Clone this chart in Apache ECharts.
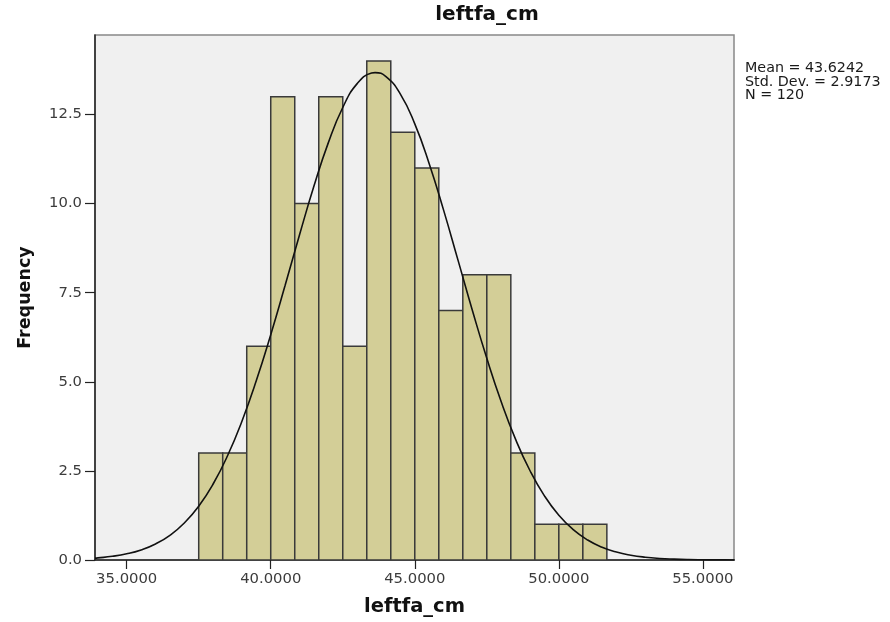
<!DOCTYPE html>
<html>
<head>
<meta charset="utf-8">
<script src="https://cdn.jsdelivr.net/npm/echarts@6/dist/echarts.min.js"></script>
<style>html,body{margin:0;padding:0;background:#fff;}#c{width:890px;height:622px;}</style>
</head>
<body>
<div id="c"></div>
<script>
const chartTitle = 'leftfa_cm';
const xName = 'leftfa_cm';
const yName = 'Frequency';
const statsLines = ['Mean = 43.6242', 'Std. Dev. = 2.9173', 'N = 120'];

const binLower = [37.5, 38.3333, 39.1667, 40.0, 40.8333, 41.6667, 42.5, 43.3333, 44.1667, 45.0, 45.8333, 46.6667, 47.5, 48.3333, 49.1667, 50.0, 50.8333];
const binUpper = [38.3333, 39.1667, 40.0, 40.8333, 41.6667, 42.5, 43.3333, 44.1667, 45.0, 45.8333, 46.6667, 47.5, 48.3333, 49.1667, 50.0, 50.8333, 51.6667];
const counts = [3, 3, 6, 13, 10, 13, 6, 14, 12, 11, 7, 8, 8, 3, 1, 1, 1];

const curveX = [33.9, 34, 34.5, 35, 35.5, 36, 36.5, 37, 37.5, 38, 38.5, 39, 39.5, 40, 40.5, 41, 41.5, 42, 42.5, 43, 43.5, 43.62, 44, 44.5, 45, 45.5, 46, 46.5, 47, 47.5, 48, 48.5, 49, 49.5, 50, 50.5, 51, 51.5, 52, 52.5, 53, 53.5, 54, 54.5, 55, 55.5, 56, 56.1];
const curveY = [0.052, 0.059, 0.103, 0.173, 0.283, 0.450, 0.693, 1.038, 1.510, 2.132, 2.924, 3.893, 5.034, 6.321, 7.707, 9.125, 10.491, 11.711, 12.696, 13.366, 13.663, 13.675, 13.562, 13.073, 12.236, 11.121, 9.816, 8.413, 7.001, 5.658, 4.440, 3.383, 2.504, 1.799, 1.255, 0.851, 0.560, 0.358, 0.222, 0.134, 0.078, 0.044, 0.025, 0.013, 0.007, 0.0034, 0.0017, 0.0015];

const xTicks = [35, 40, 45, 50, 55];

const barData = binLower.map((lo, i) => [lo, binUpper[i], counts[i]]);
const curveData = curveX.map((x, i) => [x, curveY[i]]);

const chart = echarts.init(document.getElementById('c'), null, {renderer: 'canvas'});
chart.setOption({
  animation: false,
  backgroundColor: '#ffffff',
  grid: {left: 95, right: 156, top: 35, bottom: 61, show: true, backgroundColor: '#f0f0f0', borderColor: '#888888', borderWidth: 1.5},
  xAxis: {
    type: 'value', min: 33.9, max: 56.08,
    name: xName, nameLocation: 'middle', nameGap: 37,
    nameTextStyle: {fontFamily: 'DejaVu Sans', fontWeight: 'bold', fontSize: 19.5, color: '#111'},
    axisLine: {show: true, onZero: false, lineStyle: {color: '#222', width: 1.5}},
    axisTick: {show: true, length: 9, customValues: xTicks, lineStyle: {color: '#222', width: 1.2}},
    axisLabel: {customValues: xTicks, margin: 12, fontFamily: 'DejaVu Sans', fontSize: 14.8, color: '#3c3c3c', formatter: v => v.toFixed(4)},
    splitLine: {show: false}
  },
  yAxis: {
    type: 'value', min: 0, max: 14.73, interval: 2.5,
    name: yName, nameLocation: 'middle', nameGap: 61, nameRotate: 90,
    nameTextStyle: {fontFamily: 'DejaVu Sans', fontWeight: 'bold', fontSize: 17.5, color: '#111'},
    axisLine: {show: true, lineStyle: {color: '#222', width: 1.5}},
    axisTick: {show: true, length: 10, lineStyle: {color: '#222', width: 1.2}},
    axisLabel: {margin: 13, fontFamily: 'DejaVu Sans', fontSize: 14.8, color: '#3c3c3c', formatter: v => v.toFixed(1), showMaxLabel: false},
    splitLine: {show: false}
  },
  series: [
    {
      type: 'custom',
      data: barData,
      clip: true,
      renderItem: function (params, api) {
        const p0 = api.coord([api.value(0), 0]);
        const p1 = api.coord([api.value(1), api.value(2)]);
        return {
          type: 'rect',
          shape: {x: p0[0], y: p1[1], width: p1[0] - p0[0], height: p0[1] - p1[1]},
          style: {fill: '#d3ce97', stroke: '#3a3a3a', lineWidth: 1.5}
        };
      },
      encode: {x: [0, 1], y: 2},
      z: 2
    },
    {
      type: 'line',
      data: curveData,
      smooth: true,
      showSymbol: false,
      clip: true,
      lineStyle: {color: '#111', width: 1.6},
      z: 3
    }
  ],
  graphic: [
    {type: 'text', x: 487, y: 5, style: {text: chartTitle, font: 'bold 20px "DejaVu Sans"', fill: '#111', align: 'center', verticalAlign: 'top'}},
    {type: 'text', x: 745, y: 62, style: {text: statsLines.join('\n'), font: '14.3px "DejaVu Sans"', lineHeight: 13.3, fill: '#1a1a1a'}}
  ]
});
</script>
</body>
</html>
